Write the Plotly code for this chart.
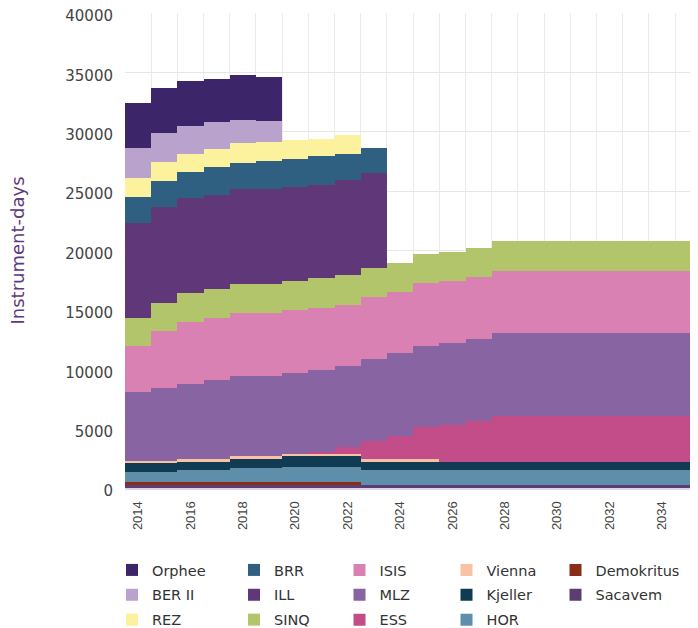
import plotly.graph_objects as go

N = None
years = list(range(2014, 2036))
tick_years = list(range(2014, 2035, 2))

# Instrument-days per facility
orphee = [3790, 3790, 3790, 3650, 3770, 3740] + [N] * 16
ber2 = [2530, 2480, 2360, 2250, 1900, 1770] + [N] * 16
rez = [1600, 1540, 1540, 1540, 1690, 1600, 1540, 1470, 1600] + [N] * 13
brr = [2190, 2250, 2190, 2330, 2190, 2300, 2420, 2380, 2220, 2110] + [N] * 12
ill = [7980, 8050, 8000, 7940, 8000, 8030, 7920, 7860, 7940, 8000] + [N] * 12
sinq = [2360, 2330, 2420, 2420, 2420, 2420, 2380, 2530, 2530, 2440, 2390, 2440, 2440, 2440] + [2530] * 8
isis = [3880, 4800, 5220, 5220, 5310, 5310, 5310, 5200, 5140, 5200, 5160, 5310, 5220, 5220] + [5210] * 8
mlz = [5810, 6150, 6340, 6680, 6800, 6800, 6820, 6930, 6880, 6910, 6970, 6850, 6910, 6880] + [7010] * 8
ess = [N] * 7 + [140, 530, 1540, 1990, 2700, 3090, 3450] + [3850] * 8
vienna = [230, 230, 230, 230, 220, 220, 230, 230, 230, 200, 200, 200] + [N] * 10
kjeller = [760, 760, 670, 670, 760, 760, 890, 890, 890] + [700] * 13
hor = [840, 840, 1070, 1070, 1210, 1210, 1300, 1300, 1300] + [1290] * 13
demokritus = [220] * 9 + [N] * 13
sacavem = [250] * 9 + [220] * 13

# bottom-to-top stacking order: (name, values, colour, legend, rank)
series = [
    ("Sacavem", sacavem, "#5b3d72", "legend5", 2),
    ("Demokritus", demokritus, "#8a2c17", "legend5", 1),
    ("HOR", hor, "#5f8eab", "legend4", 3),
    ("Kjeller", kjeller, "#113a53", "legend4", 2),
    ("Vienna", vienna, "#f9c2a3", "legend4", 1),
    ("ESS", ess, "#c34d88", "legend3", 3),
    ("MLZ", mlz, "#8864a2", "legend3", 2),
    ("ISIS", isis, "#d981b3", "legend3", 1),
    ("SINQ", sinq, "#b3c56b", "legend2", 3),
    ("ILL", ill, "#603879", "legend2", 2),
    ("BRR", brr, "#2f6082", "legend2", 1),
    ("REZ", rez, "#fcf19d", "legend", 3),
    ("BER II", ber2, "#b9a3cd", "legend", 2),
    ("Orphee", orphee, "#3c2569", "legend", 1),
]

fig = go.Figure()
for name, vals, col, leg, rank in series:
    fig.add_trace(go.Bar(
        x=years, y=vals, name=name, width=1,
        marker=dict(color=col, line=dict(width=0)),
        legend=leg, legendrank=rank, legendgroup=name,
        hovertemplate="%{x}: %{y}<extra>" + name + "</extra>",
    ))

W, H = 698, 628
ML, MT, MB = 117, 5, 148
leg_common = dict(
    orientation="v", xref="container", yref="container",
    xanchor="left", yanchor="top", y=1 - 546 / H,
    font=dict(family="DejaVu Sans", size=14.5, color="#333333"),
    bgcolor="rgba(0,0,0,0)", tracegroupgap=3, traceorder="grouped",
    borderwidth=0,
)
legend_x = [104, 226, 331.5, 438.5, 547.5]

fig.update_layout(
    width=W, height=H,
    barmode="stack", bargap=0,
    plot_bgcolor="white", paper_bgcolor="white",
    font=dict(family="DejaVu Sans", color="#444444"),
    margin=dict(l=ML, r=0, t=MT, b=MB, pad=0, autoexpand=False),
    showlegend=True,
    legend=dict(x=legend_x[0] / W, **leg_common),
    legend2=dict(x=legend_x[1] / W, **leg_common),
    legend3=dict(x=legend_x[2] / W, **leg_common),
    legend4=dict(x=legend_x[3] / W, **leg_common),
    legend5=dict(x=legend_x[4] / W, **leg_common),
    xaxis=dict(
        range=[2013.5, 2035.68], tickmode="array", tickvals=tick_years,
        ticktext=[str(y) for y in tick_years], tickangle=-90,
        tickfont=dict(family="Liberation Sans", size=13, color="#444444"),
        showgrid=False, zeroline=False, ticklabeloverflow="allow",
        ticks="outside", ticklen=6, tickcolor="rgba(0,0,0,0)",
        showline=True, linecolor="#dcd4e8", linewidth=2,
        minor=dict(showgrid=True, tick0=2013.5, dtick=1, gridcolor="#ebebeb", gridwidth=1),
    ),
    yaxis=dict(
        range=[0, 40000], dtick=5000, tick0=0, tickformat="d",
        tickfont=dict(family="DejaVu Sans", size=15, color="#444444"),
        gridcolor="#e6e6e6", gridwidth=1, zeroline=False, showline=False,
        ticks="outside", ticklen=8, tickcolor="rgba(0,0,0,0)",
        showticklabels=True, ticklabeloverflow="allow", ticklabelshift=3,
    ),
    annotations=[dict(
        text="Instrument-days", textangle=-90, showarrow=False,
        xref="paper", yref="paper", x=(17 - 8 - ML) / (W - ML), y=0.5,
        xanchor="center", yanchor="middle",
        font=dict(family="DejaVu Sans", size=18, color="#5e3a7e"),
    )],
)

fig.write_html("out.html")
